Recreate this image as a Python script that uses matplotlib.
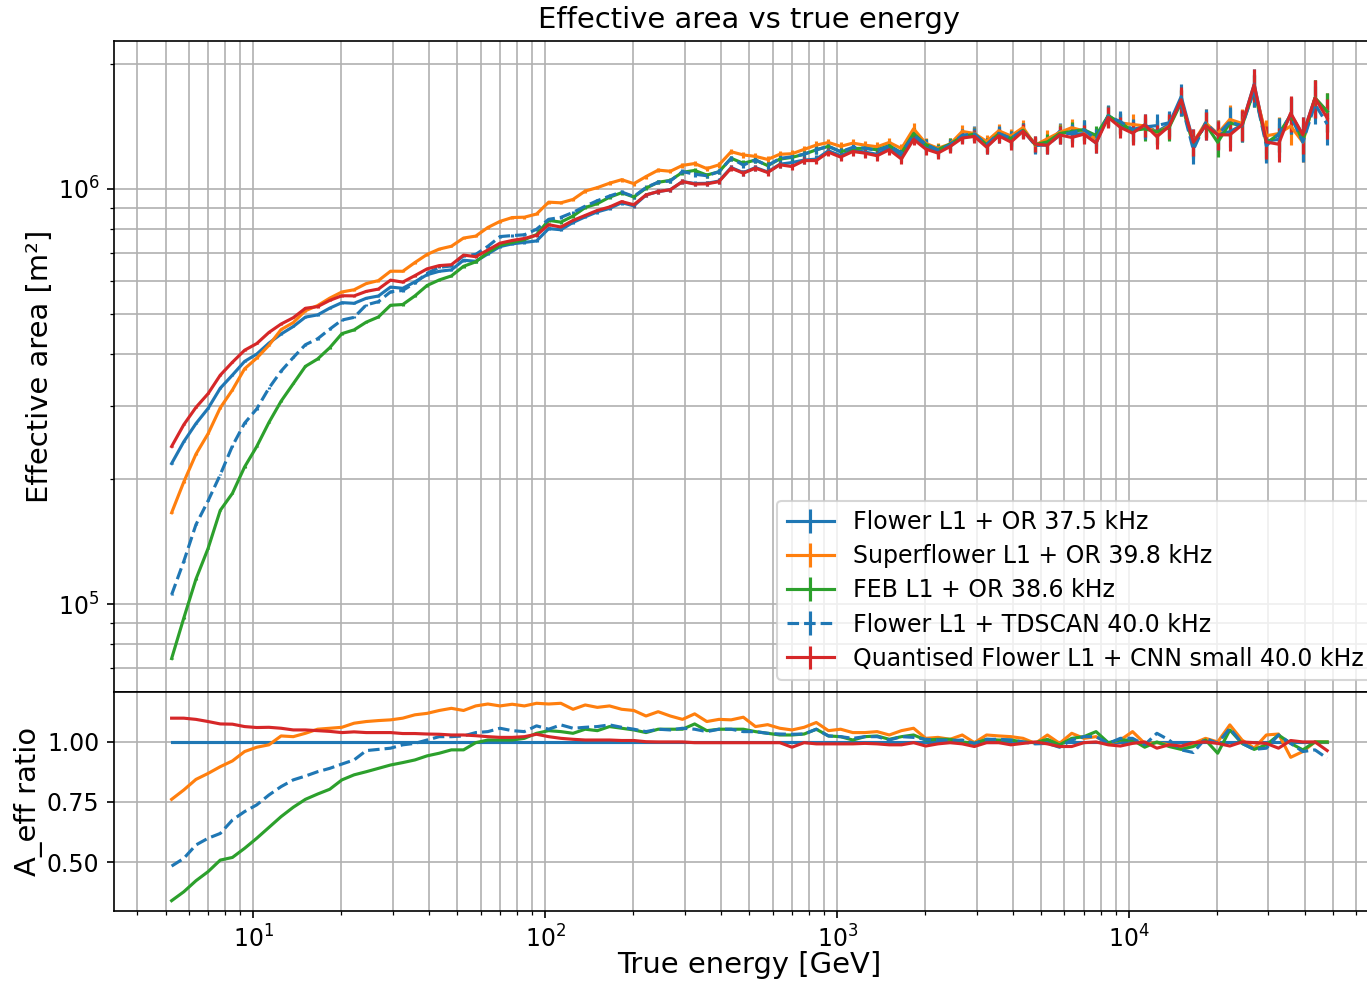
import numpy as np
import matplotlib
matplotlib.use("Agg")
import matplotlib.pyplot as plt
from matplotlib.ticker import NullFormatter, MultipleLocator

# Energy binning: 24 logarithmic bins per decade between 5 GeV and 50 TeV
energy_edges = np.logspace(np.log10(5.0), np.log10(5.0e4), 97)
energy_gev = np.sqrt(energy_edges[:-1] * energy_edges[1:])

# Effective area of the reference trigger (Flower L1 + OR) [m^2]
aeff_flower_or = np.array([
    218000, 246000, 272000, 296000, 331000, 356000, 384000, 400000, 425000, 447000,
    466000, 491000, 497000, 516000, 532000, 530000, 545000, 552000, 580000, 576000,
    597000, 621000, 633000, 638000, 673000, 669000, 697000, 726000, 737000, 743000,
    749000, 802000, 797000, 830000, 856000, 880000, 897000, 926000, 910000, 966000,
    985000, 995000, 1041000, 1030000, 1031000, 1044000, 1125000, 1094000, 1125000, 1098000,
    1146000, 1157000, 1173000, 1179000, 1235000, 1202000, 1240000, 1226000, 1211000, 1257000,
    1194000, 1320000, 1268000, 1229000, 1268000, 1336000, 1363000, 1264000, 1346000, 1312000,
    1384000, 1282000, 1283000, 1375000, 1355000, 1358000, 1289000, 1504000, 1430000, 1370000,
    1426000, 1371000, 1431000, 1667000, 1299000, 1421000, 1358000, 1372000, 1426000, 1786000,
    1304000, 1315000, 1513000, 1349000, 1654000, 1536000,
])

# Effective-area ratios with respect to Flower L1 + OR
ratio_superflower_or = np.array([
    0.761, 0.800, 0.844, 0.869, 0.897, 0.921, 0.960, 0.978, 0.988, 1.025,
    1.022, 1.036, 1.053, 1.057, 1.061, 1.078, 1.085, 1.089, 1.092, 1.099,
    1.113, 1.119, 1.131, 1.140, 1.131, 1.150, 1.158, 1.150, 1.157, 1.150,
    1.161, 1.158, 1.161, 1.136, 1.154, 1.144, 1.150, 1.136, 1.131, 1.108,
    1.126, 1.108, 1.094, 1.117, 1.085, 1.094, 1.092, 1.103, 1.064, 1.072,
    1.057, 1.050, 1.061, 1.081, 1.047, 1.053, 1.039, 1.039, 1.043, 1.029,
    1.047, 1.057, 1.015, 1.019, 1.011, 1.029, 0.997, 1.029, 1.025, 1.022,
    1.015, 0.994, 1.029, 0.994, 1.036, 1.015, 1.022, 0.994, 1.008, 1.043,
    0.994, 0.997, 0.988, 0.974, 0.994, 1.015, 1.000, 1.071, 1.008, 0.974,
    1.029, 1.033, 0.936, 0.960, 1.000, 1.000,
])

ratio_feb_or = np.array([
    0.339, 0.376, 0.422, 0.460, 0.508, 0.519, 0.557, 0.599, 0.644, 0.689,
    0.728, 0.761, 0.783, 0.803, 0.842, 0.863, 0.876, 0.890, 0.904, 0.914,
    0.925, 0.942, 0.953, 0.967, 0.967, 0.997, 1.008, 1.008, 1.008, 1.015,
    1.036, 1.047, 1.043, 1.036, 1.053, 1.047, 1.064, 1.057, 1.050, 1.039,
    1.053, 1.053, 1.053, 1.075, 1.047, 1.053, 1.053, 1.053, 1.043, 1.036,
    1.029, 1.029, 1.033, 1.053, 1.025, 1.022, 1.008, 1.022, 1.025, 1.011,
    1.022, 1.029, 1.008, 1.011, 1.011, 1.000, 0.994, 1.011, 1.008, 1.008,
    1.000, 0.997, 1.011, 0.988, 1.015, 1.022, 1.043, 0.997, 1.008, 1.008,
    0.978, 1.000, 0.981, 0.969, 0.981, 1.008, 0.953, 1.050, 0.994, 0.969,
    0.988, 1.029, 0.994, 0.967, 1.000, 1.000,
])

ratio_flower_tdscan = np.array([
    0.483, 0.515, 0.571, 0.599, 0.619, 0.675, 0.710, 0.738, 0.779, 0.814,
    0.842, 0.858, 0.876, 0.890, 0.908, 0.925, 0.964, 0.969, 0.974, 0.988,
    0.994, 1.008, 1.022, 1.022, 1.025, 1.039, 1.043, 1.057, 1.047, 1.043,
    1.067, 1.053, 1.071, 1.057, 1.061, 1.064, 1.071, 1.061, 1.053, 1.043,
    1.053, 1.050, 1.057, 1.053, 1.043, 1.053, 1.053, 1.043, 1.043, 1.036,
    1.033, 1.032, 1.033, 1.053, 1.025, 1.022, 1.015, 1.022, 1.022, 1.008,
    1.022, 1.019, 1.011, 1.008, 1.006, 1.008, 0.994, 1.011, 1.011, 1.008,
    1.000, 0.992, 0.994, 0.978, 1.008, 1.022, 1.022, 0.994, 1.015, 1.015,
    0.988, 1.036, 1.008, 0.967, 0.956, 1.015, 0.994, 1.057, 0.994, 0.969,
    0.974, 1.029, 0.994, 0.960, 0.967, 0.932,
])

ratio_quantised_cnn = np.array([
    1.099, 1.099, 1.094, 1.085, 1.075, 1.074, 1.064, 1.060, 1.061, 1.057,
    1.050, 1.050, 1.047, 1.044, 1.039, 1.042, 1.039, 1.039, 1.039, 1.035,
    1.035, 1.033, 1.032, 1.029, 1.029, 1.026, 1.022, 1.019, 1.019, 1.022,
    1.032, 1.022, 1.015, 1.011, 1.008, 1.008, 1.008, 1.006, 1.006, 1.001,
    1.000, 1.000, 1.000, 0.997, 0.997, 0.997, 0.997, 0.997, 0.997, 0.997,
    0.997, 0.978, 0.997, 0.992, 0.992, 0.992, 0.992, 0.994, 0.992, 0.988,
    0.988, 0.997, 0.983, 0.992, 0.997, 0.992, 0.981, 0.997, 0.997, 0.988,
    0.994, 1.000, 0.992, 0.981, 0.981, 0.997, 1.000, 0.988, 0.983, 0.994,
    1.000, 0.974, 0.988, 0.983, 0.997, 1.000, 0.994, 0.983, 1.000, 0.997,
    0.994, 0.974, 1.006, 1.000, 1.000, 0.964,
])

# Relative statistical uncertainty per energy bin
rel_err = np.array([
    0.004, 0.004, 0.004, 0.004, 0.004, 0.004, 0.004, 0.004, 0.004, 0.004,
    0.004, 0.005, 0.005, 0.005, 0.005, 0.005, 0.005, 0.005, 0.005, 0.006,
    0.006, 0.006, 0.006, 0.006, 0.007, 0.007, 0.007, 0.007, 0.008, 0.008,
    0.008, 0.008, 0.009, 0.009, 0.009, 0.010, 0.010, 0.010, 0.011, 0.011,
    0.012, 0.012, 0.013, 0.013, 0.014, 0.015, 0.015, 0.016, 0.017, 0.018,
    0.018, 0.019, 0.020, 0.021, 0.022, 0.023, 0.024, 0.025, 0.026, 0.027,
    0.028, 0.030, 0.031, 0.032, 0.034, 0.035, 0.037, 0.038, 0.040, 0.042,
    0.043, 0.045, 0.047, 0.049, 0.051, 0.053, 0.055, 0.057, 0.059, 0.062,
    0.064, 0.066, 0.069, 0.071, 0.074, 0.077, 0.080, 0.083, 0.086, 0.089,
    0.092, 0.095, 0.099, 0.102, 0.106, 0.110,
])

series_labels = [
    "Flower L1 + OR 37.5 kHz",
    "Superflower L1 + OR 39.8 kHz",
    "FEB L1 + OR 38.6 kHz",
    "Flower L1 + TDSCAN 40.0 kHz",
    "Quantised Flower L1 + CNN small 40.0 kHz",
]
series_ratios = [
    np.ones_like(ratio_feb_or),
    ratio_superflower_or,
    ratio_feb_or,
    ratio_flower_tdscan,
    ratio_quantised_cnn,
]
series_colors = ["C0", "C1", "C2", "C0", "C3"]
series_styles = ["-", "-", "-", "--", "-"]

small_fs = 11.35
large_fs = 13.9

fig = plt.figure(figsize=(9.12, 982 / 150), dpi=150)
ax_top = fig.add_axes([0.08333, 0.29532, 0.92909, 0.66293])
ax_bot = fig.add_axes([0.08333, 0.07230, 0.92909, 0.22302], sharex=ax_top)

for label, ratio, color, ls in zip(series_labels, series_ratios, series_colors, series_styles):
    area = aeff_flower_or * ratio
    ax_top.errorbar(energy_gev, area, yerr=area * rel_err, color=color, ls=ls,
                    lw=1.5, elinewidth=1.5, label=label)
    ax_bot.plot(energy_gev, ratio, color=color, ls=ls, lw=1.5)

ax_top.set_xscale("log")
ax_top.set_yscale("log")
ax_top.set_xlim(3.33, 7.52e4)
ax_top.set_ylim(6.14e4, 2.27e6)
ax_top.yaxis.set_minor_formatter(NullFormatter())
ax_top.grid(True, which="both", color="#b0b0b0", lw=0.8)
ax_top.tick_params(labelbottom=False, labelsize=small_fs)
ax_top.set_title("Effective area vs true energy", fontsize=large_fs)
ax_top.set_ylabel("Effective area [m²]", fontsize=large_fs, labelpad=2)
ax_top.legend(loc="lower right", fontsize=small_fs, labelspacing=0.43)

ax_bot.set_ylim(0.296, 1.208)
ax_bot.yaxis.set_major_locator(MultipleLocator(0.25))
ax_bot.grid(True, which="major", color="#b0b0b0", lw=0.8)
ax_bot.grid(True, which="minor", axis="x", color="#b0b0b0", lw=0.8)
ax_bot.tick_params(labelsize=small_fs)
ax_bot.set_xlabel("True energy [GeV]", fontsize=large_fs, labelpad=-1)
ax_bot.set_ylabel("A_eff ratio", fontsize=large_fs, labelpad=2)

fig.savefig("out.png", dpi=150)
